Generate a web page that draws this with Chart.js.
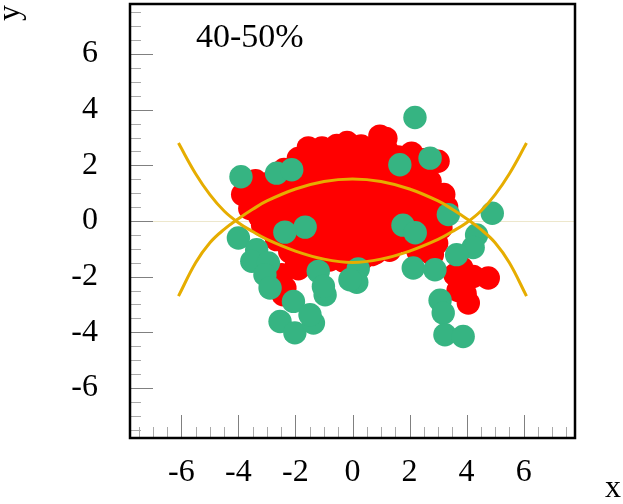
<!DOCTYPE html>
<html>
<head>
<meta charset="utf-8">
<script src="https://cdn.jsdelivr.net/npm/chart.js@4"></script>
<style>
  html, body { margin: 0; padding: 0; background: #fff; }
  #wrap { width: 623px; height: 504px; }
</style>
</head>
<body>
<div id="wrap"><canvas id="flowChart"></canvas></div>
<script>
const xTicks = [-6, -4, -2, 0, 2, 4, 6];
const yTicks = [-6, -4, -2, 0, 2, 4, 6];
const panelLabel = '40-50%';

// red points
const redX = [
  -1.55, -1.07, -0.55, -0.19, 0.3, 0.96, 1.17,
  -1.9, -1.4, -0.9, -0.4, 0.1, 0.6, 1.2, 1.6, 2.07, 2.5, 3.0,
  -2.4, -1.9, -1.4, -0.9, -0.4, 0.1, 0.6, 1.1, 1.6, 2.1, 2.5,
  -3.6, -3.4, -2.8, -2.3, -1.8, -1.3, -0.8, -0.3, 0.2, 0.7, 1.2, 1.7, 2.2, 2.72,
  -3.85, -3.3, -2.8, -2.3, -1.8, -1.3, -0.8, -0.3, 0.2, 0.7, 1.2, 1.7, 2.2, 2.7, 3.2,
  -3.6, -3.1, -2.6, -2.1, -1.6, -1.1, -0.6, -0.1, 0.4, 0.9, 1.4, 1.9, 2.4, 2.9, 3.3,
  -3.25, -2.8, -2.3, -1.8, -1.3, -0.8, -0.3, 0.2, 0.7, 1.2, 1.7, 2.2, 2.7, 3.1,
  -3.15, -2.8, -1.2, -0.7, -0.2, 0.3, 0.8, 1.3, 2.6, 3.1,
  -2.66, -2.1, -1.6, -1.1, -0.6, -0.1, 0.4, 0.9, 1.4, 1.9, 2.47, 2.95,
  -2.2, -1.7, -1.2, -0.7, -0.2, 0.3, 0.8, 1.3, 2.3, 2.8,
  -1.96, -1.4, -0.8, -0.3, 0.3, 0.67,
  -1.9, -2.48, -2.37, -2.43,
  3.59, 3.83, 4.23, 4.76, 3.7, 4.06, 3.95
];
const redY = [
  2.63, 2.63, 2.72, 2.82, 2.7, 3.05, 2.97,
  2.25, 2.35, 2.3, 2.4, 2.4, 2.5, 2.55, 2.3, 2.44, 2.2, 2.15,
  1.85, 1.9, 1.9, 1.9, 1.95, 2.0, 2.0, 2.0, 1.9, 1.9, 1.8,
  1.3, 1.45, 1.45, 1.4, 1.5, 1.5, 1.5, 1.5, 1.55, 1.5, 1.5, 1.45, 1.45, 1.42,
  0.95, 1.0, 1.0, 1.0, 1.05, 1.0, 1.05, 1.0, 1.05, 1.0, 1.05, 1.0, 1.0, 1.0, 0.95,
  0.45, 0.55, 0.6, 0.55, 0.6, 0.55, 0.6, 0.55, 0.6, 0.55, 0.6, 0.55, 0.6, 0.55, 0.5,
  0.15, 0.15, 0.1, 0.15, 0.1, 0.15, 0.1, 0.15, 0.1, 0.15, 0.2, 0.15, 0.15, 0.1,
  -0.15, -0.35, -0.3, -0.3, -0.35, -0.3, -0.3, -0.3, -0.3, -0.25,
  -0.67, -0.75, -0.7, -0.75, -0.7, -0.75, -0.7, -0.75, -0.7, -0.75, -0.85, -0.8,
  -1.1, -1.15, -1.1, -1.15, -1.15, -1.1, -1.15, -1.05, -1.1, -1.2,
  -1.51, -1.35, -1.4, -1.45, -1.4, -1.21,
  -1.72, -1.93, -2.41, -2.65,
  -1.93, -1.69, -1.99, -2.05, -2.5, -2.95, -2.62
];

// green points
const greenX = [
  2.19, -3.91, -2.66, -2.13, 1.66, 2.72,
  3.36, 4.9, 1.77, 2.2, 4.35, 4.23, 3.65,
  -1.66, -2.37,
  -4.0, -3.36, -3.53, -2.95, -3.07, -2.89,
  -2.07, -2.54, -2.02, -1.37, -1.49,
  -1.2, -0.96, -1.02,
  0.2, 0.15, -0.09,
  2.13, 2.89, 3.07, 3.18, 3.24, 3.88
];
const greenY = [
  3.72, 1.59, 1.72, 1.84, 2.02, 2.26,
  0.23, 0.28, -0.15, -0.42, -0.5, -0.95, -1.21,
  -0.22, -0.4,
  -0.61, -1.03, -1.45, -1.51, -1.93, -2.41,
  -2.89, -3.61, -4.02, -3.67, -3.37,
  -1.81, -2.65, -2.35,
  -1.72, -2.2, -2.11,
  -1.69, -1.75, -2.85, -3.31, -4.09, -4.15
];

// the two orange curves
const curveX = [-6.1, -5.5, -5, -4.5, -4, -3.5, -3, -2, -1, 0, 1, 2, 3, 3.5, 4, 4.5, 5, 5.5, 6.1];
const lowerCurveY = [2.8, 1.7, 0.95, 0.36, -0.06, -0.38, -0.66, -1.08, -1.37, -1.49, -1.37, -1.08, -0.66, -0.38, -0.06, 0.36, 0.95, 1.7, 2.8];
const upperCurveY = [-2.7, -1.5, -0.78, -0.3, 0.08, 0.42, 0.72, 1.15, 1.42, 1.51, 1.42, 1.15, 0.72, 0.42, 0.08, -0.3, -0.78, -1.5, -2.7];

const toPts = (xs, ys) => xs.map((x, i) => ({ x: x, y: ys[i] }));

const serif = '"Liberation Serif", "DejaVu Serif", serif';
const curveColor = '#e6ad00';

// inner tick marks, frame and free text
const framePlugin = {
  id: 'frame',
  beforeDatasetsDraw(chart) {
    const { ctx, chartArea: a, scales } = chart;
    ctx.save();
    ctx.lineWidth = 1;
    for (let v = -7.5; v <= 7.5; v += 0.5) {
      const major = v % 2 === 0;
      const len = major ? 23 : 11;
      ctx.strokeStyle = major ? '#808080' : '#aaaaaa';
      const px = Math.round(scales.x.getPixelForValue(v)) + 0.5;
      ctx.beginPath();
      ctx.moveTo(px, a.bottom);
      ctx.lineTo(px, a.bottom - len);
      ctx.stroke();
      const py = Math.round(scales.y.getPixelForValue(v)) + 0.5;
      ctx.beginPath();
      ctx.moveTo(a.left, py);
      ctx.lineTo(a.left + len, py);
      ctx.stroke();
    }
    ctx.restore();
  },
  afterDraw(chart) {
    const { ctx, chartArea: a } = chart;
    ctx.save();
    ctx.strokeStyle = '#000';
    ctx.lineWidth = 2.5;
    ctx.strokeRect(a.left, a.top, a.right - a.left, a.bottom - a.top);
    ctx.fillStyle = '#000';
    ctx.font = '34px ' + serif;
    ctx.textAlign = 'left';
    ctx.textBaseline = 'alphabetic';
    ctx.fillText(panelLabel, 196, 47);
    ctx.font = '32px ' + serif;
    ctx.fillText('x', 605, 497);
    ctx.translate(19, 5);
    ctx.rotate(-Math.PI / 2);
    ctx.textAlign = 'right';
    ctx.fillText('y', 0, 0);
    ctx.restore();
  }
};

new Chart(document.getElementById('flowChart'), {
  type: 'scatter',
  data: {
    datasets: [
      {
        type: 'line',
        data: toPts(curveX, upperCurveY),
        borderColor: curveColor,
        borderWidth: 3,
        pointRadius: 0,
        fill: false,
        tension: 0.4,
        order: 0
      },
      {
        type: 'line',
        data: toPts(curveX, lowerCurveY),
        borderColor: curveColor,
        borderWidth: 3,
        pointRadius: 0,
        fill: false,
        tension: 0.4,
        order: 0
      },
      {
        data: toPts(greenX, greenY),
        backgroundColor: '#36b482',
        borderWidth: 0,
        pointRadius: 11.7,
        order: 1
      },
      {
        data: toPts(redX, redY),
        backgroundColor: '#ff0000',
        borderWidth: 0,
        pointRadius: 11.7,
        order: 2
      }
    ]
  },
  options: {
    responsive: true,
    maintainAspectRatio: false,
    animation: false,
    layout: { autoPadding: false, padding: { top: 4, right: 48, left: 0, bottom: 0 } },
    plugins: {
      legend: { display: false },
      tooltip: { enabled: false }
    },
    scales: {
      x: {
        min: -7.8,
        max: 7.8,
        afterBuildTicks: (s) => { s.ticks = xTicks.map(v => ({ value: v })); },
        afterFit: (s) => { s.height = 66; s.paddingLeft = 0; s.paddingRight = 0; },
        grid: { display: false, drawTicks: false },
        border: { display: false },
        ticks: {
          font: { family: serif, size: 32 },
          color: '#000',
          padding: 15,
          maxRotation: 0
        }
      },
      y: {
        min: -7.8,
        max: 7.8,
        afterBuildTicks: (s) => { s.ticks = yTicks.map(v => ({ value: v })); },
        afterFit: (s) => { s.width = 130; s.paddingTop = 0; s.paddingBottom = 0; },
        grid: {
          drawTicks: false,
          color: (c) => (c.tick && c.tick.value === 0) ? 'rgba(225,215,170,0.6)' : 'rgba(0,0,0,0)',
          lineWidth: 1
        },
        border: { display: false },
        ticks: {
          font: { family: serif, size: 32 },
          color: '#000',
          padding: 32
        }
      }
    }
  },
  plugins: [framePlugin]
});
</script>
</body>
</html>
